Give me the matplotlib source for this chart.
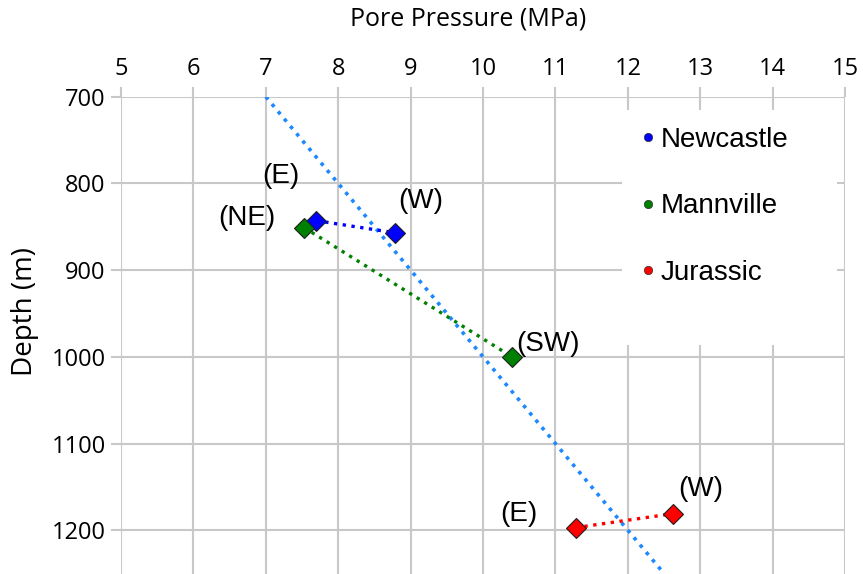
import matplotlib
matplotlib.use("Agg")
import matplotlib.pyplot as plt
from matplotlib.lines import Line2D
from matplotlib.patches import Rectangle

# hydrostatic trend (10 kPa/m)
hydro_pressure = [7.0, 12.5]
hydro_depth = [700, 1250]

newcastle_pressure = [7.70, 8.79]
newcastle_depth = [843, 857]
newcastle_labels = ["(E)", "(W)"]

mannville_pressure = [7.53, 10.40]
mannville_depth = [851, 1000]
mannville_labels = ["(NE)", "(SW)"]

jurassic_pressure = [11.28, 12.62]
jurassic_depth = [1197, 1181]
jurassic_labels = ["(E)", "(W)"]

x_ticks = list(range(5, 16))
y_ticks = [700, 800, 900, 1000, 1100, 1200]

SERIES = [
    ("Newcastle", newcastle_pressure, newcastle_depth, newcastle_labels, "#0000FF",
     [(-26, 32), (18, 23)]),
    ("Mannville", mannville_pressure, mannville_depth, mannville_labels, "#008000",
     [(-41, 7), (26, 9)]),
    ("Jurassic", jurassic_pressure, jurassic_depth, jurassic_labels, "#FF0000",
     [(-41, 10), (20, 18)]),
]

TICK_FONT = "Open Sans"
ANN_FONT = "Liberation Sans"
GRID_COLOR = "#c8c8c8"

fig = plt.figure(figsize=(8.63, 5.74), dpi=100)
ax = fig.add_axes([0.1402, 0.0, 0.8390, 0.8315])

ax.plot(hydro_pressure, hydro_depth, color="#1E88FF", lw=2.6, ls=":", zorder=3)

for name, p, d, labels, color, offsets in SERIES:
    ax.plot(p, d, color=color, lw=2.4, ls=":", zorder=4)
    ax.plot(p, d, ls="none", marker="D", ms=10, mfc=color, mec="#202020", mew=0.8, zorder=5)
    for xi, yi, lab, off in zip(p, d, labels, offsets):
        ax.annotate(lab, (xi, yi), xytext=off, textcoords="offset points",
                    ha="center", va="center", fontsize=20, family=ANN_FONT, zorder=6)

ax.set_xlim(5, 15)
ax.set_ylim(1250.5, 700)
ax.set_xticks(x_ticks)
ax.set_yticks(y_ticks)
ax.xaxis.tick_top()
ax.xaxis.set_label_position("top")
ax.grid(True, color=GRID_COLOR, lw=1.5)
ax.set_axisbelow(True)
for s in ax.spines.values():
    s.set_visible(False)
ax.tick_params(axis="both", length=7, width=1.5, color=GRID_COLOR, labelsize=17)
ax.tick_params(axis="x", pad=4)
ax.tick_params(axis="y", pad=4)
for lbl in ax.get_xticklabels() + ax.get_yticklabels():
    lbl.set_family(TICK_FONT)

ax.set_xlabel("Pore Pressure (MPa)", fontsize=18, family=TICK_FONT)
ax.xaxis.set_label_coords(0.479, 1.163)
ax.xaxis.label.set_va("center")
ax.set_ylabel("Depth (m)", fontsize=20, family=TICK_FONT)
ax.yaxis.set_label_coords(-0.1326, 0.549)
ax.yaxis.label.set_va("center")

# white patch behind the legend hides the grid
ax.add_patch(Rectangle((0.692, 0.480), 0.297, 0.492, transform=ax.transAxes,
                       facecolor="white", edgecolor="none", zorder=1))

handles = [Line2D([], [], ls="none", marker="o", ms=6, mfc=c, mec="#303030", mew=0.5)
           for _, _, _, _, c, _ in SERIES]
leg = ax.legend(handles, [s[0] for s in SERIES], loc="upper left",
                bbox_to_anchor=(0.720, 0.937), frameon=False, borderaxespad=0,
                borderpad=0, handlelength=0.4, handletextpad=0.25, labelspacing=1.46,
                prop={"family": ANN_FONT, "size": 20})
leg.set_zorder(7)

fig.savefig("out.png", dpi=100)
